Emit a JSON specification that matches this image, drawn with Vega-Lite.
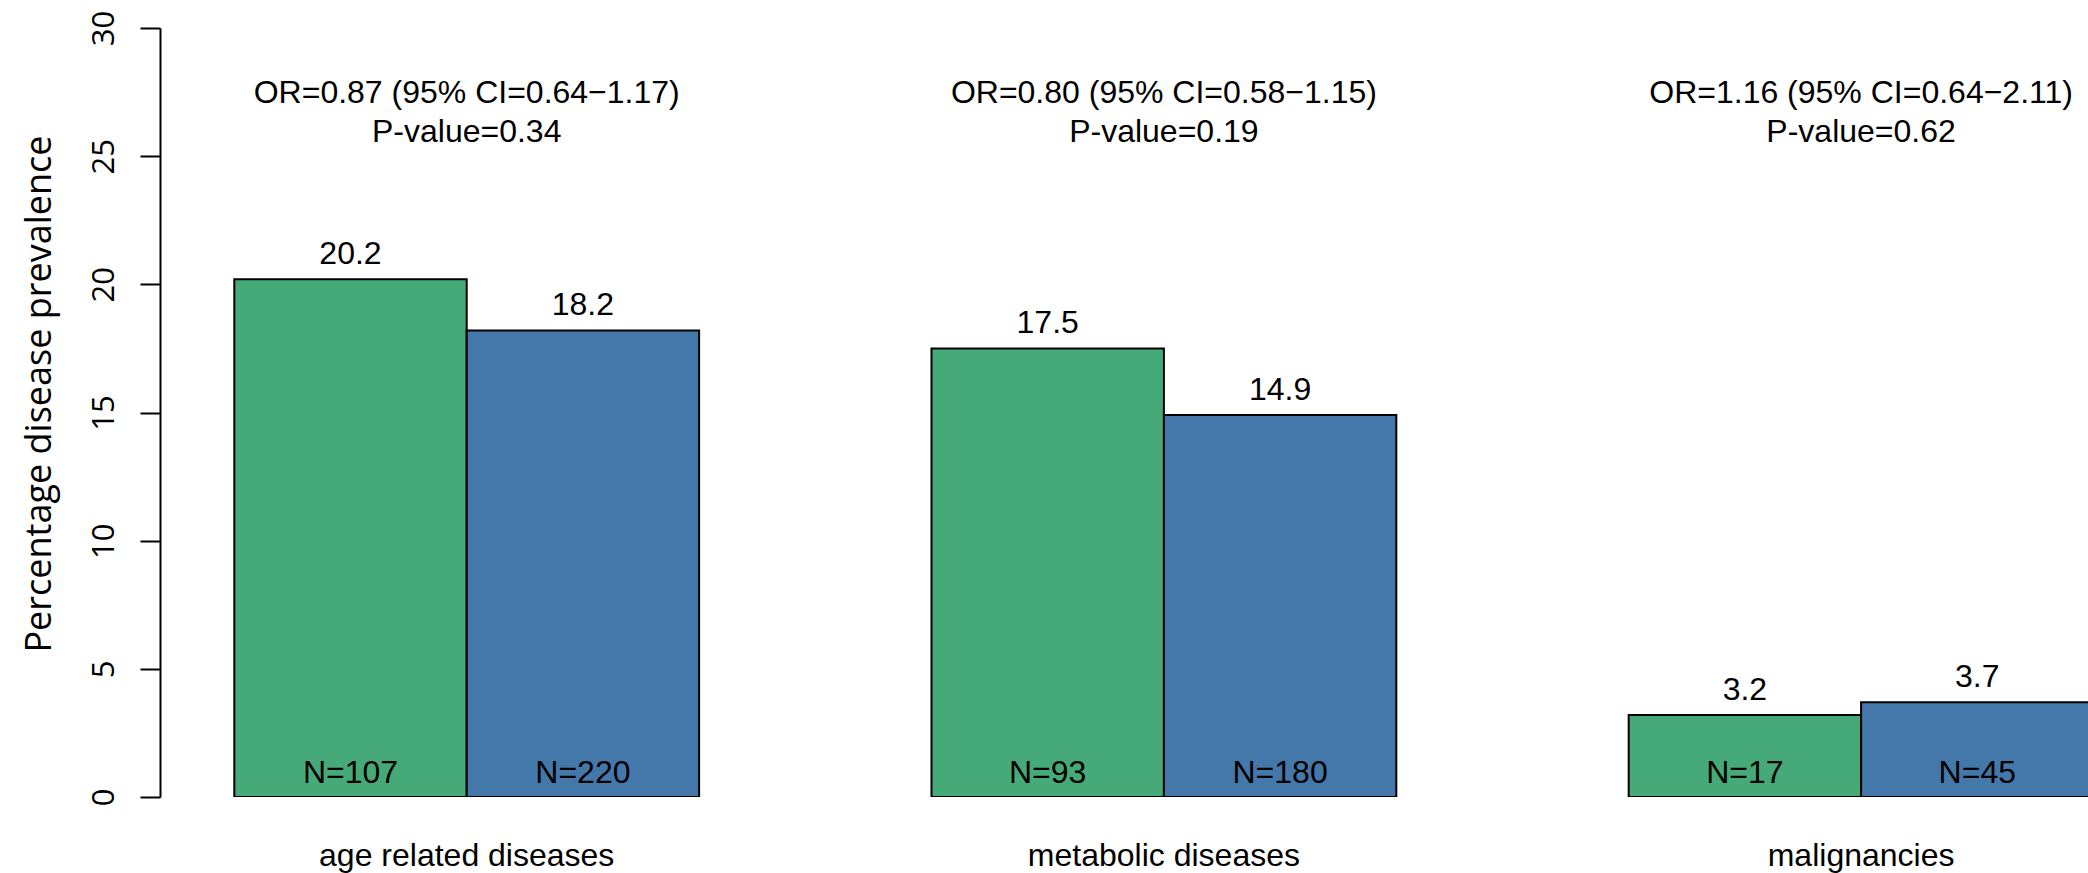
{
  "$schema": "https://vega.github.io/schema/vega-lite/v6.json",
  "width": 1928,
  "height": 769,
  "autosize": {"type": "none"},
  "padding": {"left": 160, "top": 28, "right": 0, "bottom": 76},
  "background": "white",
  "config": {
    "view": {"stroke": null},
    "text": {"font": "Liberation Sans", "fontSize": 32, "color": "black"}
  },
  "datasets": {
    "prevalence": [
      {"disease": "age related diseases", "group": "group 1", "pct": 20.2, "label": "N=107"},
      {"disease": "age related diseases", "group": "group 2", "pct": 18.2, "label": "N=220"},
      {"disease": "metabolic diseases", "group": "group 1", "pct": 17.5, "label": "N=93"},
      {"disease": "metabolic diseases", "group": "group 2", "pct": 14.9, "label": "N=180"},
      {"disease": "malignancies", "group": "group 1", "pct": 3.2, "label": "N=17"},
      {"disease": "malignancies", "group": "group 2", "pct": 3.7, "label": "N=45"}
    ],
    "stats": [
      {"disease": "age related diseases", "lines": "OR=0.87 (95% CI=0.64−1.17)\nP-value=0.34"},
      {"disease": "metabolic diseases", "lines": "OR=0.80 (95% CI=0.58−1.15)\nP-value=0.19"},
      {"disease": "malignancies", "lines": "OR=1.16 (95% CI=0.64−2.11)\nP-value=0.62"}
    ]
  },
  "layer": [
    {
      "data": {"name": "prevalence"},
      "mark": {"type": "bar", "stroke": "black", "strokeWidth": 2, "clip": true, "opacity": 1},
      "encoding": {
        "x": {
          "field": "disease",
          "type": "nominal",
          "sort": ["age related diseases", "metabolic diseases", "malignancies"],
          "scale": {"range": [74.3, 1933.5], "paddingInner": 0.3333, "paddingOuter": 0},
          "title": null,
          "axis": {
            "orient": "bottom",
            "domain": false,
            "ticks": false,
            "tickSize": 0,
            "grid": false,
            "labelAngle": 0,
            "labelLimit": 0,
            "labelFont": "Liberation Sans",
            "labelFontSize": 32,
            "labelColor": "black",
            "labelPadding": 68,
            "labelBaseline": "alphabetic"
          }
        },
        "xOffset": {
          "field": "group",
          "type": "nominal",
          "sort": ["group 1", "group 2"],
          "scale": {"paddingInner": 0, "paddingOuter": 0}
        },
        "y": {
          "field": "pct",
          "type": "quantitative",
          "scale": {"domain": [0, 30], "nice": false},
          "title": "Percentage disease prevalence",
          "axis": {
            "values": [0, 5, 10, 15, 20, 25, 30],
            "grid": false,
            "domainColor": "black",
            "domainWidth": 2,
            "tickColor": "black",
            "tickWidth": 2,
            "tickSize": 20,
            "labelAngle": 270,
            "labelAlign": "center",
            "labelBaseline": "alphabetic",
            "labelPadding": 27,
            "labelFlush": false,
            "labelOverlap": false,
            "labelFont": "Open Sans",
            "labelFontSize": 31,
            "labelColor": "black",
            "titleFont": "Open Sans",
            "titleFontSize": 36,
            "titleFontWeight": "normal",
            "titleColor": "black",
            "titleAngle": 270,
            "titleAlign": "center",
            "titleBaseline": "alphabetic",
            "titleLimit": 0,
            "titleX": -110,
            "titleY": 365.5
          }
        },
        "color": {
          "field": "group",
          "type": "nominal",
          "scale": {"domain": ["group 1", "group 2"], "range": ["#45AA78", "#4477AA"]},
          "legend": null
        }
      }
    },
    {
      "data": {"name": "prevalence"},
      "mark": {"type": "text", "baseline": "alphabetic", "dy": -15},
      "encoding": {
        "x": {"field": "disease", "type": "nominal", "sort": ["age related diseases", "metabolic diseases", "malignancies"]},
        "xOffset": {"field": "group", "type": "nominal", "sort": ["group 1", "group 2"]},
        "y": {"field": "pct", "type": "quantitative"},
        "text": {"field": "pct", "type": "quantitative", "format": ".1f"}
      }
    },
    {
      "data": {"name": "prevalence"},
      "mark": {"type": "text", "baseline": "alphabetic", "dy": -14},
      "encoding": {
        "x": {"field": "disease", "type": "nominal", "sort": ["age related diseases", "metabolic diseases", "malignancies"]},
        "xOffset": {"field": "group", "type": "nominal", "sort": ["group 1", "group 2"]},
        "y": {"datum": 0},
        "text": {"field": "label", "type": "nominal"}
      }
    },
    {
      "data": {"name": "stats"},
      "mark": {"type": "text", "baseline": "alphabetic", "lineBreak": "\n", "lineHeight": 38.4, "dy": 75.3},
      "encoding": {
        "x": {"field": "disease", "type": "nominal", "sort": ["age related diseases", "metabolic diseases", "malignancies"]},
        "y": {"datum": 30},
        "text": {"field": "lines", "type": "nominal"}
      }
    }
  ]
}
